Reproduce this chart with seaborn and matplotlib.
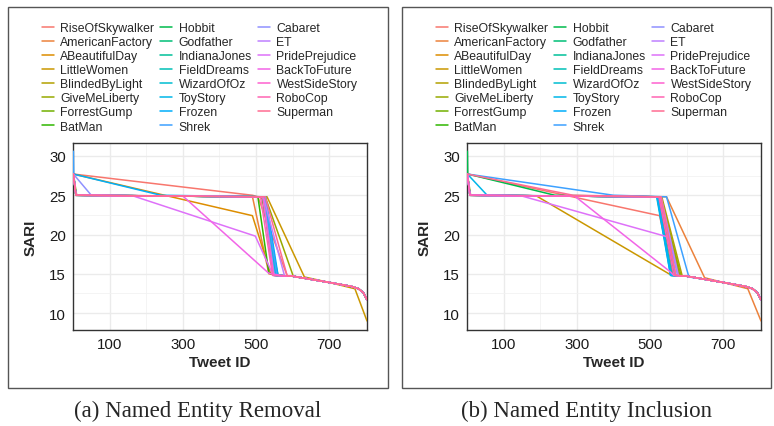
import numpy as np
import pandas as pd
import matplotlib
matplotlib.use("Agg")
import matplotlib.pyplot as plt
import seaborn as sns
from matplotlib.patches import Rectangle

MOVIES = ["RiseOfSkywalker", "AmericanFactory", "ABeautifulDay", "LittleWomen",
          "BlindedByLight", "GiveMeLiberty", "ForrestGump", "BatMan",
          "Hobbit", "Godfather", "IndianaJones", "FieldDreams", "WizardOfOz",
          "ToyStory", "Frozen", "Shrek", "Cabaret", "ET", "PridePrejudice",
          "BackToFuture", "WestSideStory", "RoboCop", "Superman"]

# shared slow decline after the big drop
TAIL = [(600, 14.7), (650, 14.3), (700, 13.9), (760, 13.4), (780, 13.1), (793, 12.6), (803, 11.7)]

# breakpoints per movie, (a) Named Entity Removal
REMOVAL = {
    "RiseOfSkywalker": [(1, 27.7), (490, 25.0), (505, 24.8), (585, 14.75)],
    "AmericanFactory": [(1, 27.7), (8, 25.0), (490, 24.85), (535, 15.0), (560, 14.8)],
    "ABeautifulDay": [(1, 27.7), (250, 25.0), (490, 22.4), (540, 15.0), (565, 14.8)],
    "LittleWomen": [(1, 27.7), (8, 25.0), (530, 24.8), (632, 14.6), (700, 13.9), (770, 13.1), (803, 9.0)],
    "BlindedByLight": [(1, 27.7), (8, 25.0), (520, 24.8), (555, 14.8)],
    "GiveMeLiberty": [(1, 27.7), (8, 25.0), (525, 24.8), (602, 14.65)],
    "ForrestGump": [(1, 27.7), (10, 25.0), (515, 24.8), (560, 14.8)],
    "BatMan": [(1, 27.7), (8, 25.0), (505, 24.8), (535, 15.1), (555, 14.8)],
    "Hobbit": [(1, 27.7), (8, 25.0), (518, 24.8), (548, 14.8)],
    "Godfather": [(1, 27.7), (8, 25.0), (522, 24.8), (550, 14.8)],
    "IndianaJones": [(1, 27.7), (8, 25.0), (519, 24.8), (552, 14.8)],
    "FieldDreams": [(1, 27.7), (8, 25.0), (521, 24.8), (553, 14.8)],
    "WizardOfOz": [(1, 27.7), (8, 25.0), (523, 24.8), (555, 14.8)],
    "ToyStory": [(1, 27.7), (8, 25.0), (525, 24.8), (558, 14.8)],
    "Frozen": [(1, 27.7), (240, 25.0), (526, 24.8), (560, 14.8)],
    "Shrek": [(1, 30.6), (2, 27.7), (8, 25.0), (524, 24.8), (557, 14.8)],
    "Cabaret": [(1, 27.7), (50, 25.0), (520, 24.8), (550, 14.8)],
    "ET": [(1, 27.7), (8, 25.0), (520, 24.8), (578, 14.7)],
    "PridePrejudice": [(1, 27.7), (8, 25.0), (165, 24.9), (498, 19.8), (545, 15.0), (565, 14.8)],
    "BackToFuture": [(1, 27.7), (8, 25.0), (300, 24.9), (534, 15.1), (560, 14.8)],
    "WestSideStory": [(1, 27.7), (8, 25.0), (518, 24.8), (548, 14.8)],
    "RoboCop": [(1, 27.7), (8, 25.0), (512, 24.8), (545, 14.8)],
    "Superman": [(1, 27.7), (8, 25.0), (525, 24.8), (585, 14.75)],
}

# breakpoints per movie, (b) Named Entity Inclusion
INCLUSION = {
    "RiseOfSkywalker": [(1, 27.7), (526, 22.4), (562, 14.8)],
    "AmericanFactory": [(1, 27.7), (8, 25.0), (545, 24.8), (649, 14.5), (700, 13.9), (767, 13.1), (803, 9.0)],
    "ABeautifulDay": [(1, 27.7), (8, 25.0), (530, 24.8), (582, 14.7)],
    "LittleWomen": [(1, 27.7), (8, 25.0), (190, 24.9), (559, 14.8)],
    "BlindedByLight": [(1, 27.7), (8, 25.0), (532, 24.8), (588, 14.7)],
    "GiveMeLiberty": [(1, 27.7), (10, 25.0), (528, 24.8), (585, 14.7)],
    "ForrestGump": [(1, 27.7), (8, 25.0), (525, 24.8), (580, 14.7)],
    "BatMan": [(1, 27.7), (8, 25.0), (522, 24.8), (565, 14.8)],
    "Hobbit": [(1, 30.6), (2, 27.7), (240, 25.0), (523, 24.8), (566, 14.8)],
    "Godfather": [(1, 27.7), (8, 25.0), (523, 24.8), (570, 14.8)],
    "IndianaJones": [(1, 27.7), (8, 25.0), (526, 24.8), (568, 14.8)],
    "FieldDreams": [(1, 27.7), (8, 25.0), (520, 24.8), (560, 14.8)],
    "WizardOfOz": [(1, 27.7), (8, 25.0), (518, 24.8), (556, 14.8)],
    "ToyStory": [(1, 27.7), (55, 25.0), (519, 24.8), (558, 14.8)],
    "Frozen": [(1, 27.7), (8, 25.0), (520, 24.8), (556, 14.8)],
    "Shrek": [(1, 27.7), (400, 25.0), (545, 24.8), (606, 14.6)],
    "Cabaret": [(1, 27.7), (8, 25.0), (528, 24.8), (575, 14.8)],
    "ET": [(1, 27.7), (8, 25.0), (530, 24.8), (578, 14.7)],
    "PridePrejudice": [(1, 27.7), (8, 25.0), (150, 24.9), (548, 19.7), (570, 14.8)],
    "BackToFuture": [(1, 27.7), (8, 25.0), (294, 24.9), (554, 15.3), (565, 14.8)],
    "WestSideStory": [(1, 27.7), (8, 25.0), (527, 24.8), (570, 14.8)],
    "RoboCop": [(1, 27.7), (8, 25.0), (524, 24.8), (565, 14.8)],
    "Superman": [(1, 27.7), (290, 25.0), (530, 24.8), (570, 14.8)],
}

X_TICKS = [100, 300, 500, 700]
Y_TICKS = [10, 15, 20, 25, 30]
CAPTIONS = ["(a) Named Entity Removal", "(b) Named Entity Inclusion"]


def hcl_hex(h, c=100.0, l=65.0):
    # ggplot2 hue_pal: polar LUV -> sRGB, clipped
    hr = np.deg2rad(h)
    u, v = c * np.cos(hr), c * np.sin(hr)
    xn, yn, zn = 95.047, 100.0, 108.883
    den = xn + 15 * yn + 3 * zn
    un, vn = 4 * xn / den, 9 * yn / den
    Y = yn * ((l + 16) / 116) ** 3
    up = u / (13 * l) + un
    vp = v / (13 * l) + vn
    X = 9.0 * Y * up / (4 * vp)
    Z = -X / 3 - 5 * Y + 3 * Y / vp
    M = np.array([[3.240479, -1.537150, -0.498535],
                  [-0.969256, 1.875992, 0.041556],
                  [0.055648, -0.204043, 1.057311]])
    rgb = np.clip(M @ (np.array([X, Y, Z]) / 100), 0, 1)
    rgb = np.where(rgb > 0.0031308, 1.055 * rgb ** (1 / 2.4) - 0.055, 12.92 * rgb)
    return matplotlib.colors.to_hex(np.clip(rgb, 0, 1))


hues = np.linspace(15, 375, len(MOVIES) + 1)[:-1]
palette = {m: hcl_hex(h) for m, h in zip(MOVIES, hues)}


def to_frame(series):
    rows = []
    for m in MOVIES:
        pts = list(series[m])
        last_x = pts[-1][0]
        pts += [p for p in TAIL if p[0] > last_x]
        for x, y in pts:
            rows.append({"movie": m, "x": x, "y": y})
    return pd.DataFrame(rows)


sns.set_style("white")
plt.rcParams["font.family"] = ["Liberation Sans", "DejaVu Sans"]

W, H = 774, 427
fig = plt.figure(figsize=(W / 100, H / 100), dpi=100)

panels = [
    dict(data=REMOVAL, frame=(8, 388), axes=(73, 367), key_x=42),
    dict(data=INCLUSION, frame=(402, 771), axes=(467, 761), key_x=436),
]
top_px, bot_px = 144, 331

for p, cap in zip(panels, CAPTIONS):
    # outer grey frame
    fx0, fx1 = p["frame"]
    fig.patches.append(Rectangle((fx0 / W, 1 - 389 / H), (fx1 - fx0) / W, 381 / H,
                                 transform=fig.transFigure, fill=False,
                                 edgecolor="#555555", linewidth=1.0))
    ax0, ax1 = p["axes"]
    ax = fig.add_axes([ax0 / W, 1 - bot_px / H, (ax1 - ax0) / W, (bot_px - top_px) / H])
    df = to_frame(p["data"])
    sns.lineplot(data=df, x="x", y="y", hue="movie", hue_order=MOVIES,
                 palette=palette, estimator=None, sort=False, linewidth=1.1,
                 zorder=3, ax=ax)
    handles, labels = ax.get_legend_handles_labels()
    ax.get_legend().remove()
    fig.legend(handles, labels, loc="upper left", ncol=3, frameon=False,
               bbox_to_anchor=(p["key_x"] / W, 1 - 23 / H),
               fontsize=8.8, handlelength=0.95, handletextpad=0.55,
               columnspacing=0.5, labelspacing=0.17, borderpad=0, borderaxespad=0)

    ax.set_xlim(0, 803)
    ax.set_ylim(7.85, 31.65)
    ax.set_xticks(X_TICKS)
    ax.set_yticks(Y_TICKS)
    ax.set_xticks([200, 400, 600], minor=True)
    ax.set_yticks([12.5, 17.5, 22.5, 27.5], minor=True)
    ax.grid(True, which="major", color="#ebebeb", linewidth=1.0)
    ax.grid(True, which="minor", color="#f2f2f2", linewidth=0.6)
    ax.set_axisbelow(True)
    ax.tick_params(axis="both", which="major", labelsize=10.8, length=3,
                   color="#333333", labelcolor="#1a1a1a", pad=2)
    ax.tick_params(axis="both", which="minor", length=0)
    for s in ax.spines.values():
        s.set_color("#333333")
        s.set_linewidth(1.0)
    ax.set_xlabel("Tweet ID", fontsize=11, fontweight="bold", labelpad=3)
    ax.set_ylabel("SARI", fontsize=11, fontweight="bold", labelpad=8)

    fig.text((fx0 + fx1) / 2 / W, 1 - 411 / H, cap, ha="center", va="center",
             fontsize=16.5, family="Liberation Serif")

fig.savefig("out.png", dpi=100)
